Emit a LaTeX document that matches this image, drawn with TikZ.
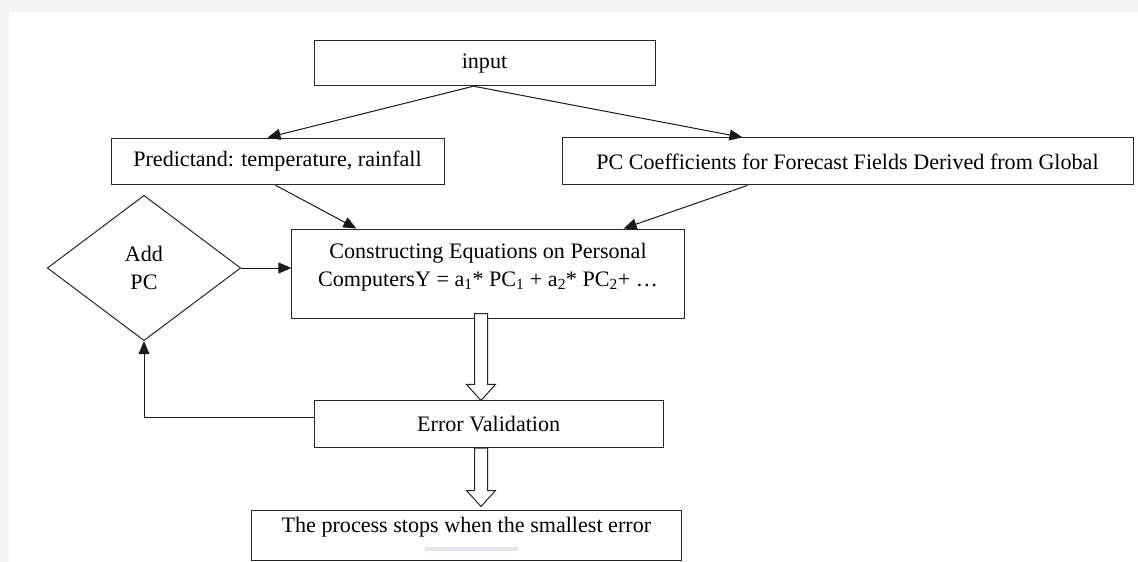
\documentclass[tikz,border=0pt]{standalone}
\usepackage{fontspec}
\setmainfont{Liberation Serif}
\usetikzlibrary{arrows.meta,shapes.geometric,calc}

\definecolor{sheetgray}{HTML}{F4F4F4}
\definecolor{markbar}{HTML}{E4E4EE}

\tikzset{
  box/.style={draw=black!85, line width=1pt, rectangle, inner sep=0pt, align=center,
              font=\fontsize{22.1}{28.4}\selectfont},
  decision/.style={box, diamond},
  conn/.style={draw=black!90, line width=1pt, -{Triangle[length=13pt,width=11pt]}},
  hollow/.style={draw=black!85, line width=1pt, fill=white, line join=miter},
}

% hollow block arrow pointing down: #1 top of the stem, #2 the tip
\newcommand{\hollowdown}[2]{%
  \draw[hollow] ($(#1)+(-6.5,0)$) -- ($(#2)+(-6.5,-16)$) -- ($(#2)+(-14.5,-16)$) -- (#2)
    -- ($(#2)+(14.5,-16)$) -- ($(#2)+(6.5,-16)$) -- ($(#1)+(6.5,0)$) -- cycle;}

\begin{document}
\begin{tikzpicture}[x=1pt,y=-1pt]
  % sheet
  \fill[sheetgray] (0,0) rectangle (1138,562);
  \fill[white] (9,12) rectangle (1138,562);
  \useasboundingbox (0,0) rectangle (1138,562);

  % Boxes
  \node[box, minimum width=341pt, minimum height=45pt] (input) at (484.5,63.2) {input};
  \node[box, minimum width=333pt, minimum height=46.7pt] (pred) at (277.5,161.4) {Predictand: temperature, rainfall};
  \node[box, minimum width=571pt, minimum height=47pt] (pcc) at (847.5,161.4) {PC Coefficients for Forecast Fields Derived from Global};
  \node[box, minimum width=392.3pt, minimum height=89pt, text depth=17pt] (cons) at (488,273.5)
    {Constructing Equations on Personal\\ComputersY = a\textsubscript{1}* PC\textsubscript{1} + a\textsubscript{2}* PC\textsubscript{2}+ …};
  \node[decision, minimum width=193.4pt, minimum height=145.4pt] (add) at (144,268) {Add\\PC};
  \node[box, minimum width=349.3pt, minimum height=46.7pt] (err) at (488.7,424.3) {Error Validation};
  \node[box, minimum width=429.3pt, minimum height=50.8pt, text depth=22pt] (stop) at (466.4,535.4)
    {The process stops when the smallest error};
  \fill[markbar] (425,546.5) rectangle (517.7,550.5);

  % Connectors
  \draw[conn] ([xshift=-11pt]input.south) -- ([xshift=-10pt]pred.north);
  \draw[conn] ([xshift=-11pt]input.south) -- ([xshift=-105pt]pcc.north);
  \draw[conn] ([xshift=-2pt]pred.south) -- ([xshift=65pt]cons.north west);
  \draw[conn] ([xshift=-100pt]pcc.south) -- ([xshift=-61pt]cons.north east);
  \draw[conn] (add.east) -- (add.east -| cons.west);
  \draw[conn] ([yshift=7pt]err.west) -| (add.south);

  % block arrows
  \coordinate (axis) at (481,0);
  \coordinate (h1top) at ($(axis |- cons.south)+(0,-5)$);
  \coordinate (h2tip) at ($(axis |- stop.north)+(0,-3)$);
  \hollowdown{h1top}{axis |- err.north}
  \hollowdown{axis |- err.south}{h2tip}
\end{tikzpicture}
\end{document}
